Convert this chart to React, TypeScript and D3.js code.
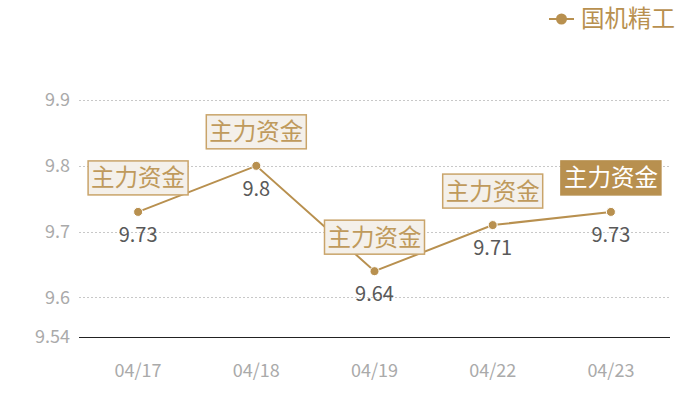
import React, { useEffect, useRef } from "react";
import * as d3 from "d3";

const categories = ["04/17", "04/18", "04/19", "04/22", "04/23"];
const values = [9.73, 9.8, 9.64, 9.71, 9.73];
const labelText = "主力资金";
const highlightIndex = 4;
const yTicks = [9.6, 9.7, 9.8, 9.9];
const yMin = 9.54;
const yMax = 9.9;
const seriesName = "国机精工";

const W = 700;
const H = 400;
const GOLD = "#b8904f";
const FONT = "'Noto Sans CJK SC', 'Noto Sans', sans-serif";

export default function App() {
  const ref = useRef<SVGSVGElement>(null);

  useEffect(() => {
    const svg = d3.select(ref.current!);
    svg.selectAll("*").remove();

    const x = d3.scaleBand().domain(categories).range([79, 670]);
    const y = d3.scaleLinear().domain([yMin, yMax]).range([337, 100]);
    const cx = (c: string) => x(c)! + x.bandwidth() / 2;

    // grid
    svg
      .append("g")
      .selectAll("line")
      .data(yTicks)
      .join("line")
      .attr("x1", 79)
      .attr("x2", 670)
      .attr("y1", (d) => Math.round(y(d)) + 0.5)
      .attr("y2", (d) => Math.round(y(d)) + 0.5)
      .attr("stroke", "#c8c8c8")
      .attr("stroke-dasharray", "2,2");

    // base axis line
    svg
      .append("line")
      .attr("x1", 79)
      .attr("x2", 670)
      .attr("y1", Math.round(y(yMin)) + 0.5)
      .attr("y2", Math.round(y(yMin)) + 0.5)
      .attr("stroke", "#222")
      .attr("stroke-width", 1)
      .attr("shape-rendering", "crispEdges");

    // y labels
    svg
      .append("g")
      .selectAll("text")
      .data([yMin, ...yTicks])
      .join("text")
      .attr("x", 70)
      .attr("y", (d) => y(d))
      .attr("dy", "0.35em")
      .attr("text-anchor", "end")
      .attr("fill", "#aaa")
      .attr("font-size", 18)
      .attr("font-family", FONT)
      .text((d) => String(d));

    // x labels
    svg
      .append("g")
      .selectAll("text")
      .data(categories)
      .join("text")
      .attr("x", (d) => cx(d))
      .attr("y", 371)
      .attr("dy", "0.35em")
      .attr("text-anchor", "middle")
      .attr("fill", "#aaa")
      .attr("font-size", 18)
      .attr("font-family", FONT)
      .text((d) => d);

    // line
    const line = d3
      .line<number>()
      .x((_, i) => cx(categories[i]))
      .y((d) => y(d));
    svg
      .append("path")
      .datum(values)
      .attr("d", line)
      .attr("fill", "none")
      .attr("stroke", GOLD)
      .attr("stroke-width", 2);

    svg
      .append("g")
      .selectAll("circle")
      .data(values)
      .join("circle")
      .attr("cx", (_, i) => cx(categories[i]))
      .attr("cy", (d) => y(d))
      .attr("r", 4.5)
      .attr("fill", GOLD)
      .attr("stroke", "#fff")
      .attr("stroke-width", 1);

    // value labels
    svg
      .append("g")
      .selectAll("text")
      .data(values)
      .join("text")
      .attr("x", (_, i) => cx(categories[i]))
      .attr("y", (d) => y(d) + 23)
      .attr("dy", "0.35em")
      .attr("text-anchor", "middle")
      .attr("fill", "#595959")
      .attr("font-size", 20)
      .attr("font-family", FONT)
      .text((d) => String(d));

    // callout boxes
    const boxes = svg
      .append("g")
      .selectAll("g")
      .data(values)
      .join("g")
      .attr(
        "transform",
        (d, i) => `translate(${cx(categories[i])},${y(d) - 17})`
      );
    boxes
      .append("rect")
      .attr("x", -50)
      .attr("y", -34)
      .attr("width", 100)
      .attr("height", 34)
      .attr("fill", (_, i) => (i === highlightIndex ? GOLD : "#f4f0ea"))
      .attr("stroke", (_, i) => (i === highlightIndex ? GOLD : "#c9a46a"))
      .attr("stroke-width", 1.5);
    boxes
      .append("text")
      .attr("x", 0)
      .attr("y", -17)
      .attr("dy", "0.36em")
      .attr("text-anchor", "middle")
      .attr("fill", (_, i) => (i === highlightIndex ? "#fff" : "#bf9a5c"))
      .attr("font-size", 23.5)
      .attr("font-family", FONT)
      .text(labelText);

    // legend
    const lg = svg.append("g").attr("transform", "translate(549,19)");
    lg.append("line")
      .attr("x1", 0)
      .attr("x2", 25)
      .attr("stroke", GOLD)
      .attr("stroke-width", 2);
    lg.append("circle").attr("cx", 12.5).attr("r", 5.5).attr("fill", GOLD);
    lg.append("text")
      .attr("x", 32)
      .attr("dy", "0.36em")
      .attr("fill", GOLD)
      .attr("font-size", 23.5)
      .attr("font-family", FONT)
      .text(seriesName);
  }, []);

  return (
    <svg
      ref={ref}
      width={W}
      height={H}
      style={{ position: "absolute", left: 0, top: 0, background: "#fff" }}
    />
  );
}
